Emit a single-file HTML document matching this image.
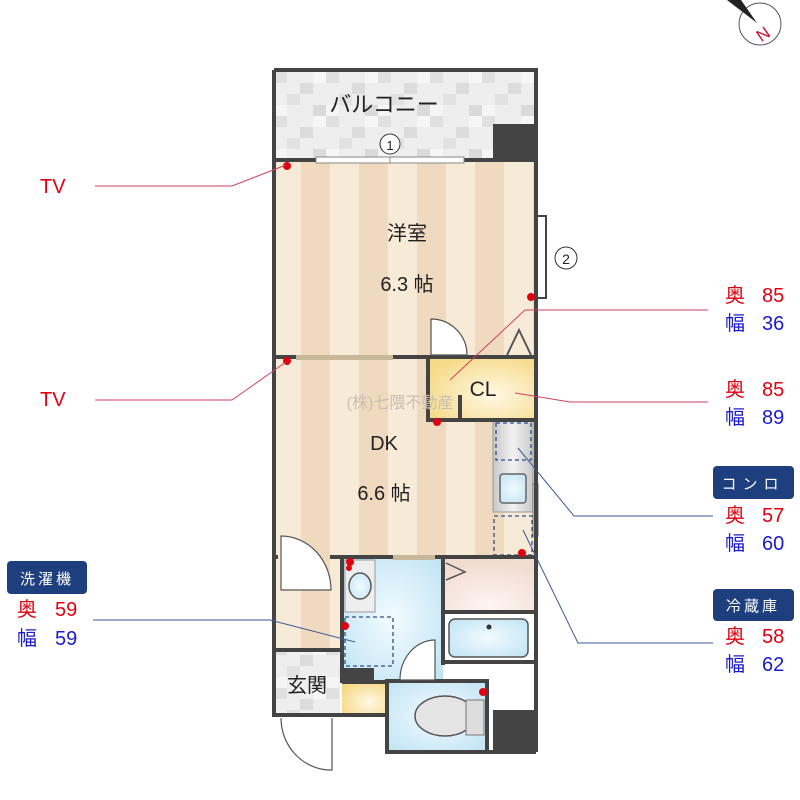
<!DOCTYPE html>
<html><head><meta charset="utf-8"><style>
html,body{margin:0;padding:0;background:#fff;width:800px;height:800px;overflow:hidden}
svg text{font-family:"Liberation Sans","Noto Sans CJK JP",sans-serif}
</style></head><body>
<svg width="800" height="800" viewBox="0 0 800 800" xmlns="http://www.w3.org/2000/svg">
<defs>
<pattern id="st" x="272" y="0" width="58" height="10" patternUnits="userSpaceOnUse">
<rect width="58" height="10" fill="#f0dabf"/><rect width="29" height="10" fill="#f7ead7"/>
</pattern>
<pattern id="tile" x="274" y="72" width="52" height="44" patternUnits="userSpaceOnUse">
<rect width="52" height="44" fill="#eeeeee"/>
<rect x="0" y="0" width="13" height="11" fill="#e0e0e0"/><rect x="26" y="11" width="13" height="11" fill="#dcdcdc"/>
<rect x="13" y="22" width="13" height="11" fill="#e2e2e2"/><rect x="39" y="33" width="13" height="11" fill="#dadada"/>
<rect x="39" y="0" width="13" height="11" fill="#f6f6f6"/><rect x="0" y="33" width="13" height="11" fill="#f5f5f5"/>
</pattern>
<radialGradient id="blue" cx="0.5" cy="0.5" r="0.7"><stop offset="0" stop-color="#f2fbff"/><stop offset="1" stop-color="#bfe3f3"/></radialGradient>
<radialGradient id="yel" cx="0.6" cy="0.6" r="0.7"><stop offset="0" stop-color="#fff8e4"/><stop offset="1" stop-color="#f6d985"/></radialGradient>
<radialGradient id="pink" cx="0.5" cy="0.9" r="0.8"><stop offset="0" stop-color="#fdf6f2"/><stop offset="1" stop-color="#f2dcd2"/></radialGradient>
<linearGradient id="steel" x1="0" x2="1"><stop offset="0" stop-color="#c8c8c8"/><stop offset="0.5" stop-color="#f2f2f2"/><stop offset="1" stop-color="#c8c8c8"/></linearGradient>
</defs>

<!-- compass -->
<circle cx="760" cy="24" r="21" fill="#fff" stroke="#555" stroke-width="1"/>
<polygon points="727,0 741,0 757,23" fill="#222"/>
<text x="763" y="40" font-size="17" text-anchor="middle" fill="#d0102a" transform="rotate(-35 763 34)">N</text>

<!-- balcony -->
<rect x="272" y="70" width="264" height="92" fill="url(#tile)"/>
<rect x="493" y="124" width="43" height="38" fill="#444"/>
<text x="384" y="112" font-size="22" text-anchor="middle" fill="#222">バルコニー</text>

<!-- floors -->
<rect x="272" y="160" width="264" height="397" fill="url(#st)"/>
<rect x="272" y="557" width="70" height="93" fill="url(#st)"/>
<rect x="342" y="557" width="101" height="124" fill="url(#blue)"/>
<rect x="443" y="557" width="93" height="55" fill="url(#pink)"/>
<rect x="443" y="612" width="93" height="50" fill="#fff"/>
<rect x="449" y="619" width="79" height="38" rx="6" fill="url(#blue)" stroke="#555" stroke-width="1.5"/>
<circle cx="489" cy="627" r="2.5" fill="#333"/>
<rect x="272" y="650" width="68" height="65" fill="url(#tile)"/>
<rect x="342" y="683" width="45" height="32" fill="url(#yel)"/>
<rect x="387" y="681" width="100" height="70" fill="url(#blue)"/>
<rect x="493" y="710" width="43" height="42" fill="#444"/>
<rect x="342" y="680" width="45" height="4" fill="#444"/>
<rect x="342" y="668" width="32" height="14" fill="#444"/>

<!-- CL -->
<rect x="428" y="357" width="108" height="63" fill="url(#yel)"/>
<!-- kitchen -->
<rect x="493" y="420" width="40" height="92" fill="url(#steel)" stroke="#999" stroke-width="1"/>
<rect x="496" y="423" width="35" height="37" fill="none" stroke="#2c4d8a" stroke-width="1.3" stroke-dasharray="4,3"/>
<rect x="500" y="474" width="26" height="29" rx="3" fill="url(#blue)" stroke="#666" stroke-width="1.5"/>
<rect x="494" y="516" width="38" height="39" fill="none" stroke="#2c4d8a" stroke-width="1.3" stroke-dasharray="4,3"/>
<rect x="533" y="484" width="5" height="52" fill="#fff" stroke="#666" stroke-width="1"/>

<!-- walls -->
<g fill="none" stroke="#444" stroke-width="4">
<path d="M274,70 H536 V752"/>
<path d="M274,70 V715"/>
<path d="M272,160 H316 M464,160 H536"/>
<path d="M272,357 H296 M393,357 H536"/>
<path d="M428,357 V420 H536 M460,395 V420"/>
<path d="M272,557 H278 M330,557 H536"/>
<path d="M342,557 V683"/>
<path d="M443,557 V665"/>
<path d="M443,612 H536 M443,662 H536"/>
<path d="M272,650 H342"/>
<path d="M272,715 H387"/>
<path d="M387,681 H487 V752 H387 Z"/>
<path d="M487,752 H536"/>
</g>
<rect x="316" y="157" width="148" height="6" fill="#fff" stroke="#888" stroke-width="1"/>
<line x1="390" y1="157" x2="390" y2="163" stroke="#888"/>
<circle cx="390" cy="144" r="10" fill="#fff" stroke="#333" stroke-width="1"/>
<text x="390" y="150" font-size="13" text-anchor="middle" fill="#222">1</text>
<rect x="296" y="355" width="97" height="5" fill="#c8b89a"/>
<rect x="537" y="216" width="9" height="82" fill="#fff" stroke="#444" stroke-width="2"/>
<circle cx="566" cy="258" r="11" fill="#fff" stroke="#333" stroke-width="1"/>
<text x="566" y="264" font-size="14" text-anchor="middle" fill="#222">2</text>
<rect x="393" y="555" width="42" height="5" fill="#c8b89a"/>

<!-- doors -->
<g fill="#fff" stroke="#555" stroke-width="1.2">
<path d="M431,355 V319 A36,36 0 0 1 467,355 Z"/>
<path d="M281,590 V536 A50,54 0 0 1 331,590 Z"/>
<path d="M435,680 V640 A35,40 0 0 0 400,680 Z"/>
<path d="M281,718 A50,52 0 0 0 332,770 V718"/>
</g>
<polyline points="507,355 519,330 531,355" fill="none" stroke="#555" stroke-width="2"/>
<polyline points="446,563 465,572 446,580" fill="none" stroke="#555" stroke-width="1.5"/>
<!-- basin, washer, toilet -->
<rect x="345" y="560" width="30" height="52" fill="#eee" stroke="#999"/>
<ellipse cx="360" cy="586" rx="11" ry="13" fill="url(#blue)" stroke="#555" stroke-width="1.5"/>
<rect x="345" y="617" width="48" height="49" fill="none" stroke="#2c4d8a" stroke-width="1.3" stroke-dasharray="4,3"/>
<ellipse cx="445" cy="716" rx="30" ry="20" fill="#e4e4e4" stroke="#555" stroke-width="1.5"/>
<rect x="466" y="700" width="18" height="35" fill="#ddd" stroke="#777"/>

<!-- red dots -->
<g fill="#e00010">
<circle cx="287" cy="166" r="4"/><circle cx="287" cy="361" r="4"/><circle cx="531" cy="297" r="4"/>
<circle cx="437" cy="422" r="4"/><circle cx="350" cy="562" r="4"/><circle cx="349" cy="568" r="3"/>
<circle cx="345" cy="626" r="4"/><circle cx="522" cy="553" r="4"/><circle cx="483" cy="692" r="4"/>
</g>

<!-- room labels -->
<text x="407" y="240" font-size="20" text-anchor="middle" fill="#222">洋室</text>
<text x="407" y="291" font-size="20" text-anchor="middle" fill="#222">6.3 帖</text>
<text x="384" y="450" font-size="20" text-anchor="middle" fill="#222">DK</text>
<text x="384" y="500" font-size="20" text-anchor="middle" fill="#222">6.6 帖</text>
<text x="483" y="396" font-size="21" text-anchor="middle" fill="#222">CL</text>
<text x="307" y="692" font-size="20" text-anchor="middle" fill="#222">玄関</text>
<text x="400" y="408" font-size="16" text-anchor="middle" fill="#c9bfb2">(株)七隈不動産</text>

<!-- leaders -->
<g fill="none" stroke-width="1">
<path d="M95,186 H232 L286,165" stroke="#d04060"/>
<path d="M95,400 H232 L286,362" stroke="#d04060"/>
<path d="M708,310 H525 L450,380" stroke="#d04060"/>
<path d="M708,402 H570 L515,393" stroke="#d04060"/>
<path d="M713,516 H574 L518,448" stroke="#3a5a9a"/>
<path d="M713,643 H578 L523,530" stroke="#3a5a9a"/>
<path d="M93,620 H270 L355,642" stroke="#3a5a9a"/>
</g>

<!-- annotations -->
<g font-size="20">
<text x="40" y="193" fill="#e00010">TV</text>
<text x="40" y="406" fill="#e00010">TV</text>
<text x="725" y="302" fill="#e00010">奥</text><text x="762" y="302" fill="#e00010">85</text>
<text x="725" y="330" fill="#1a1ad0">幅</text><text x="762" y="330" fill="#1a1ad0">36</text>
<text x="725" y="396" fill="#e00010">奥</text><text x="762" y="396" fill="#e00010">85</text>
<text x="725" y="424" fill="#1a1ad0">幅</text><text x="762" y="424" fill="#1a1ad0">89</text>
<text x="725" y="522" fill="#e00010">奥</text><text x="762" y="522" fill="#e00010">57</text>
<text x="725" y="550" fill="#1a1ad0">幅</text><text x="762" y="550" fill="#1a1ad0">60</text>
<text x="725" y="643" fill="#e00010">奥</text><text x="762" y="643" fill="#e00010">58</text>
<text x="725" y="671" fill="#1a1ad0">幅</text><text x="762" y="671" fill="#1a1ad0">62</text>
<text x="17" y="616" fill="#e00010">奥</text><text x="55" y="616" fill="#e00010">59</text>
<text x="17" y="645" fill="#1a1ad0">幅</text><text x="55" y="645" fill="#1a1ad0">59</text>
</g>
<rect x="713" y="466" width="81" height="33" rx="4" fill="#1e3f7e"/>
<text x="753" y="489" font-size="15" text-anchor="middle" fill="#fff" letter-spacing="6">コンロ</text>
<rect x="713" y="589" width="81" height="32" rx="4" fill="#1e3f7e"/>
<text x="753" y="611" font-size="15" text-anchor="middle" fill="#fff" letter-spacing="3">冷蔵庫</text>
<rect x="7" y="561" width="80" height="33" rx="4" fill="#1e3f7e"/>
<text x="47" y="584" font-size="15" text-anchor="middle" fill="#fff" letter-spacing="3">洗濯機</text>
</svg>
</body></html>
